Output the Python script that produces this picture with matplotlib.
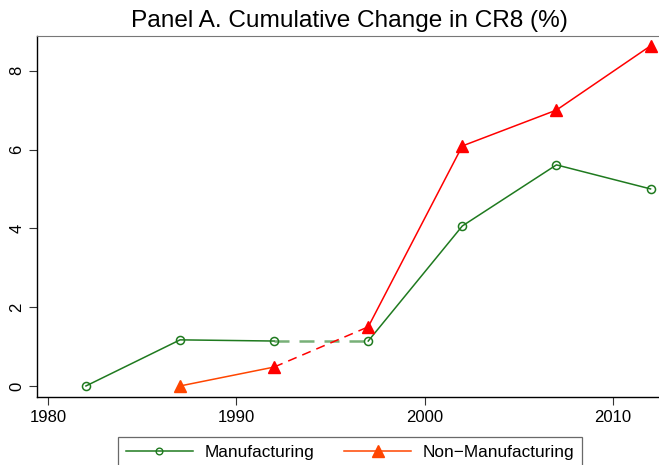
import numpy as np
import matplotlib
matplotlib.use("Agg")
import matplotlib.pyplot as plt
from matplotlib.lines import Line2D

plt.rcParams['font.family'] = ['Liberation Sans', 'DejaVu Sans']

years = [1982, 1987, 1992, 1997, 2002, 2007, 2012]
manuf = [0.0, 1.17, 1.14, 1.14, 4.06, 5.61, 5.0]
nonmanuf_years = [1987, 1992, 1997, 2002, 2007, 2012]
nonmanuf = [0.0, 0.48, 1.50, 6.09, 7.0, 8.63]
x_ticks = [1980, 1990, 2000, 2010]
y_ticks = [0, 2, 4, 6, 8]

green = '#1f7a1f'
green_light = '#78b078'
red = '#ff0000'
orange = '#ff4500'

fig = plt.figure(figsize=(6.59, 4.65), dpi=100)
ax = fig.add_axes([37/659, 1-397/465, 1-37/659, (397-36)/465])

# manufacturing: solid, dashed gap 1992-1997, solid
ax.plot(years[:3], manuf[:3], color=green, lw=1.1, zorder=3)
ax.plot(years[2:4], manuf[2:4], color=green_light, lw=1.8, ls=(0, (6, 4)), zorder=2)
ax.plot(years[3:], manuf[3:], color=green, lw=1.1, zorder=3)
ax.plot(years, manuf, ls='none', marker='o', ms=5.8, mfc='none', mec=green, mew=1.1, zorder=4)

# non-manufacturing
ax.plot(nonmanuf_years[:2], nonmanuf[:2], color=orange, lw=1.1, zorder=3)
ax.plot(nonmanuf_years[1:3], nonmanuf[1:3], color=red, lw=1.1, ls=(0, (6, 4)), zorder=3)
ax.plot(nonmanuf_years[2:], nonmanuf[2:], color=red, lw=1.1, zorder=3)
ax.plot(nonmanuf_years[:1], nonmanuf[:1], ls='none', marker='^', ms=8, color=orange, zorder=4)
ax.plot(nonmanuf_years[1:], nonmanuf[1:], ls='none', marker='^', ms=8, color=red, zorder=4)

ax.set_xlim(1979.4, 2012.45)
ax.set_ylim(-0.28, 8.88)
ax.set_xticks(x_ticks)
ax.set_yticks(y_ticks)
ax.set_xticklabels([str(t) for t in x_ticks], fontsize=12)
ax.set_yticklabels([str(t) for t in y_ticks], fontsize=12, rotation=90, va='center')
ax.tick_params(direction='out', length=6, width=0.8, color='#333333', pad=3)
ax.spines['right'].set_visible(False)
ax.spines['top'].set_color('#777777')
ax.spines['left'].set_linewidth(1.0)
ax.spines['bottom'].set_linewidth(1.0)

fig.text(349/659, 1-27/465, 'Panel A. Cumulative Change in CR8 (%)', fontsize=17.6,
         ha='center', va='baseline')

handles = [
    Line2D([], [], color=green, lw=1.1, marker='o', mfc='none', mec=green, ms=4.8),
    Line2D([], [], color=orange, lw=1.1, marker='^', ms=8),
]
leg = fig.legend(handles, ['Manufacturing', 'Non\u2212Manufacturing'], loc='upper center',
                 bbox_to_anchor=(350/659, 1-437/465), borderaxespad=0, ncol=2,
                 fontsize=12.4, frameon=True, fancybox=False, edgecolor='#444444',
                 handlelength=3.9, handletextpad=0.65, columnspacing=1.75,
                 borderpad=0.45)
leg.get_frame().set_linewidth(0.9)

fig.savefig('out.png', dpi=100)
